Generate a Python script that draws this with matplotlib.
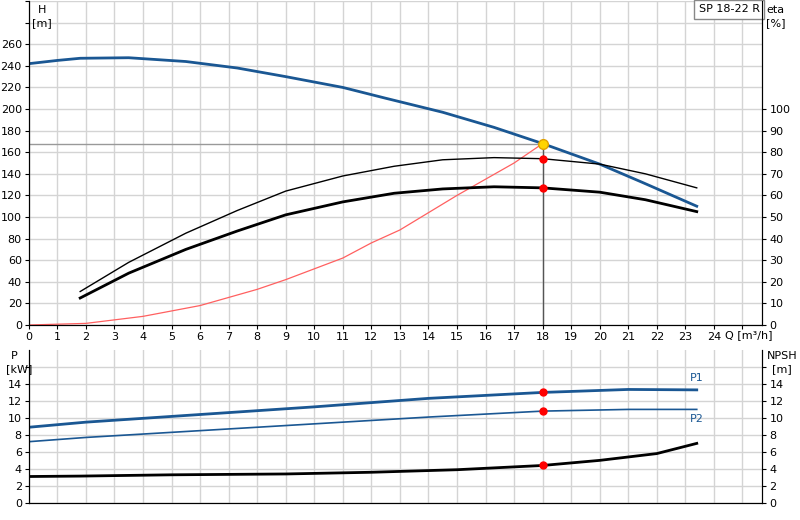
import matplotlib
matplotlib.use("Agg")
import matplotlib.pyplot as plt
import numpy as np

# H curve [m]
q_h = [0, 1, 1.8, 3.5, 5.5, 7.3, 9, 11, 12.5, 14.5, 16.3, 18, 20, 21.5, 23.4]
h = [242, 245, 247, 247.5, 244, 238, 230, 220, 210, 197, 183, 168, 149, 132, 110]
# efficiency curves [%]
q_eta = [1.8, 3.5, 5.5, 7.3, 9, 11, 12.8, 14.5, 16.3, 18, 20, 21.6, 23.4]
eta_thin = [15.5, 29, 42.5, 53, 62, 69, 73.5, 76.5, 77.5, 77, 74.5, 70, 63.5]
eta_thick = [12.5, 24, 35, 43.5, 51, 57, 61, 63, 64, 63.5, 61.5, 58, 52.5]
# system curve [m]
q_sys = [0, 2, 4, 6, 8, 9, 10, 11, 12, 13, 15, 17, 18]
h_sys = [0, 1.5, 8, 18, 33, 42, 52, 62, 76, 88, 120, 150, 168]
# power / NPSH
q_p = [0, 2, 6, 10, 14, 18, 21, 23.4]
p1 = [8.9, 9.5, 10.4, 11.3, 12.3, 13.0, 13.35, 13.3]
p2 = [7.2, 7.7, 8.5, 9.3, 10.1, 10.8, 11.0, 11.0]
q_n = [0, 1.8, 5, 9, 12, 15, 18, 20, 22, 23.4]
npsh = [3.1, 3.15, 3.3, 3.4, 3.6, 3.9, 4.4, 5.0, 5.8, 7.0]
q_op, h_op = 18, 168
eta_op = [77, 63.5]
p_op = [13.0, 10.8, 4.4]

blue = "#1a5793"
grid = "#d4d4d4"
fs = 8

fig = plt.figure(figsize=(8, 5.2), dpi=100)
ax = fig.add_axes([0.036, 0.375, 0.917, 0.623])
ax.set_xlim(0, 25.7); ax.set_ylim(0, 300)
ax.set_xticks(range(0, 26)); ax.set_yticks(range(0, 301, 20))
ax.set_xticklabels([str(i) if i <= 24 else "" for i in range(26)], fontsize=fs)
ax.set_yticklabels([str(v) if v <= 260 else "" for v in range(0, 301, 20)], fontsize=fs)
ax.grid(True, color=grid, lw=1); ax.set_axisbelow(True)
ax.tick_params(length=3, pad=2)
for s in ["top"]:
    ax.spines[s].set_visible(False)
ax.plot([0, q_op], [h_op, h_op], color="#999999", lw=1)
ax.plot([q_op, q_op], [0, h_op], color="#555555", lw=1)
ax.plot(q_h, h, color=blue, lw=2)
ax.plot(q_sys, h_sys, color="#ff6060", lw=0.9)
ax2 = ax.twinx()
ax2.set_ylim(0, 150)
ax2.set_yticks(range(0, 101, 10))
ax2.set_yticklabels([str(v) for v in range(0, 101, 10)], fontsize=fs)
ax2.tick_params(length=3, pad=2)
ax2.spines["top"].set_visible(False)
ax2.plot(q_eta, eta_thin, color="black", lw=1)
ax2.plot(q_eta, eta_thick, color="black", lw=2)
ax2.plot([q_op]*2, eta_op, "o", color="red", ms=5, ls="none")
ax.plot([q_op], [h_op], "o", color="#ffd400", mec="#e0a000", ms=7, zorder=5)
ax.text(24.4, -4.5, "Q [m³/h]", fontsize=fs, va="top", ha="left")
fig.text(0.052, 0.99, "H", fontsize=fs, ha="center", va="top")
fig.text(0.052, 0.965, "[m]", fontsize=fs, ha="center", va="top")
fig.text(0.958, 0.99, "eta", fontsize=fs, ha="left", va="top")
fig.text(0.958, 0.965, "[%]", fontsize=fs, ha="left", va="top")
ax.text(25.6, 297, "SP 18-22 R", fontsize=fs, ha="right", va="top",
        bbox=dict(facecolor="white", edgecolor="#888888", pad=3))

bx = fig.add_axes([0.036, 0.033, 0.917, 0.294])
bx.set_xlim(0, 25.7); bx.set_ylim(0, 18)
bx.set_xticks(range(0, 26)); bx.set_xticklabels([])
bx.set_yticks(range(0, 17, 2))
bx.set_yticklabels([str(v) if v <= 14 else "" for v in range(0, 17, 2)], fontsize=fs)
bx.grid(True, color=grid, lw=1); bx.set_axisbelow(True)
bx.tick_params(length=3, pad=2)
bx.tick_params(axis="x", length=0)
bx.spines["top"].set_visible(False)
bx.plot(q_p, p1, color=blue, lw=2)
bx.plot(q_p, p2, color=blue, lw=1.2)
bx.plot(q_n, npsh, color="black", lw=2)
bx.plot([q_op]*3, p_op, "o", color="red", ms=5, ls="none")
bx.text(23.4, 14.1, "P1", fontsize=fs, color=blue, ha="center", va="bottom")
bx.text(23.4, 10.5, "P2", fontsize=fs, color=blue, ha="center", va="top")
bx2 = bx.twinx()
bx2.set_ylim(0, 18); bx2.set_yticks(range(0, 17, 2))
bx2.set_yticklabels([str(v) if v <= 14 else "" for v in range(0, 17, 2)], fontsize=fs)
bx2.tick_params(length=3, pad=2)
bx2.spines["top"].set_visible(False)
fig.text(0.014, 0.325, "P", fontsize=fs, ha="left", va="top")
fig.text(0.008, 0.30, "[kW]", fontsize=fs, ha="left", va="top")
fig.text(0.958, 0.325, "NPSH", fontsize=fs, ha="left", va="top")
fig.text(0.965, 0.30, "[m]", fontsize=fs, ha="left", va="top")
fig.savefig("out.png", dpi=100)
